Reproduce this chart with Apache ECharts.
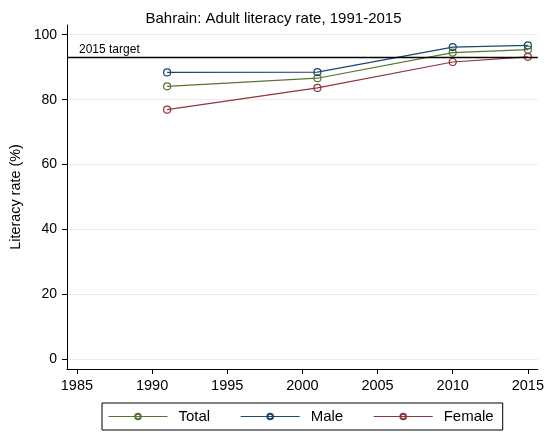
<!DOCTYPE html>
<html>
<head>
<meta charset="utf-8">
<script src="https://cdn.jsdelivr.net/npm/echarts@6/dist/echarts.min.js"></script>
<style>
  html, body { margin: 0; padding: 0; background: #fff; }
  #main { width: 547px; height: 433px; }
</style>
</head>
<body>
<div id="main"></div>
<script>
const years = [1991, 2001, 2010, 2015];
const total = [84.1, 86.6, 94.5, 95.4];
const male = [88.4, 88.5, 96.2, 96.7];
const female = [76.9, 83.6, 91.6, 93.2];
const target = 93.2;
const xTicks = [1985, 1990, 1995, 2000, 2005, 2010, 2015];
const yTicks = [0, 20, 40, 60, 80, 100];

const font = "Liberation Sans, Arial, sans-serif";

function pairs(vals) {
  return years.map((y, i) => [y, vals[i]]);
}

function lineSeries(name, vals, color) {
  return {
    name: name,
    type: "line",
    data: pairs(vals),
    symbol: "circle",
    symbolSize: 7,
    itemStyle: { color: "rgba(255,255,255,0)", borderColor: color, borderWidth: 1.2 },
    lineStyle: { color: color, width: 1.2 },
    animation: false,
  };
}

const chart = echarts.init(document.getElementById("main"));
const series = [
  lineSeries("Total", total, "#55752f"),
  lineSeries("Male", male, "#1a476f"),
  lineSeries("Female", female, "#90353b"),
];
// horizontal target line with its label
series[0].markLine = {
  silent: true,
  symbol: "none",
  animation: false,
  lineStyle: { color: "#000", width: 1.3, type: "solid" },
  label: {
    position: "insideStartTop",
    formatter: "2015 target",
    color: "#000",
    fontSize: 12,
    fontFamily: font,
    distance: [12, 1],
  },
  data: [{ yAxis: target }],
};

chart.setOption({
  backgroundColor: "#fff",
  textStyle: { fontFamily: font },
  title: {
    text: "Bahrain: Adult literacy rate, 1991-2015",
    left: "center",
    top: 6,
    textStyle: { fontSize: 15, fontWeight: "normal", color: "#000", fontFamily: font },
  },
  grid: { left: 67, right: 7, top: 25, bottom: 64, containLabel: false },
  xAxis: {
    type: "value",
    min: 1984.34,
    max: 2015.66,
    axisLine: { onZero: false, lineStyle: { color: "#000", width: 1 } },
    axisTick: { show: true, length: 5, customValues: xTicks, lineStyle: { color: "#000" } },
    axisLabel: {
      customValues: xTicks,
      formatter: (v) => String(v),
      fontSize: 14.5,
      color: "#000",
      margin: 9,
      fontFamily: font,
    },
    splitLine: { show: false },
  },
  yAxis: {
    type: "value",
    min: -3,
    max: 103,
    name: "Literacy rate (%)",
    nameLocation: "middle",
    nameGap: 41,
    nameTextStyle: { fontSize: 14.4, color: "#000", fontFamily: font },
    axisLine: { show: true, onZero: false, lineStyle: { color: "#000", width: 1 } },
    axisTick: { show: true, length: 5, customValues: yTicks, lineStyle: { color: "#000" } },
    axisLabel: { customValues: yTicks, fontSize: 14, color: "#000", margin: 10, fontFamily: font },
    splitLine: { show: true, lineStyle: { color: "#ececec", width: 1 } },
  },
  legend: {
    left: 102,
    top: 403,
    orient: "horizontal",
    padding: [6, 9, 6, 6],
    borderColor: "#000",
    borderWidth: 1,
    itemWidth: 59,
    itemHeight: 7,
    itemGap: 30,
    lineStyle: { width: 1 },
    textStyle: { fontSize: 15, color: "#000", fontFamily: font, padding: [0, 0, 0, 6] },
    data: ["Total", "Male", "Female"],
  },
  series: series,
});
</script>
</body>
</html>
